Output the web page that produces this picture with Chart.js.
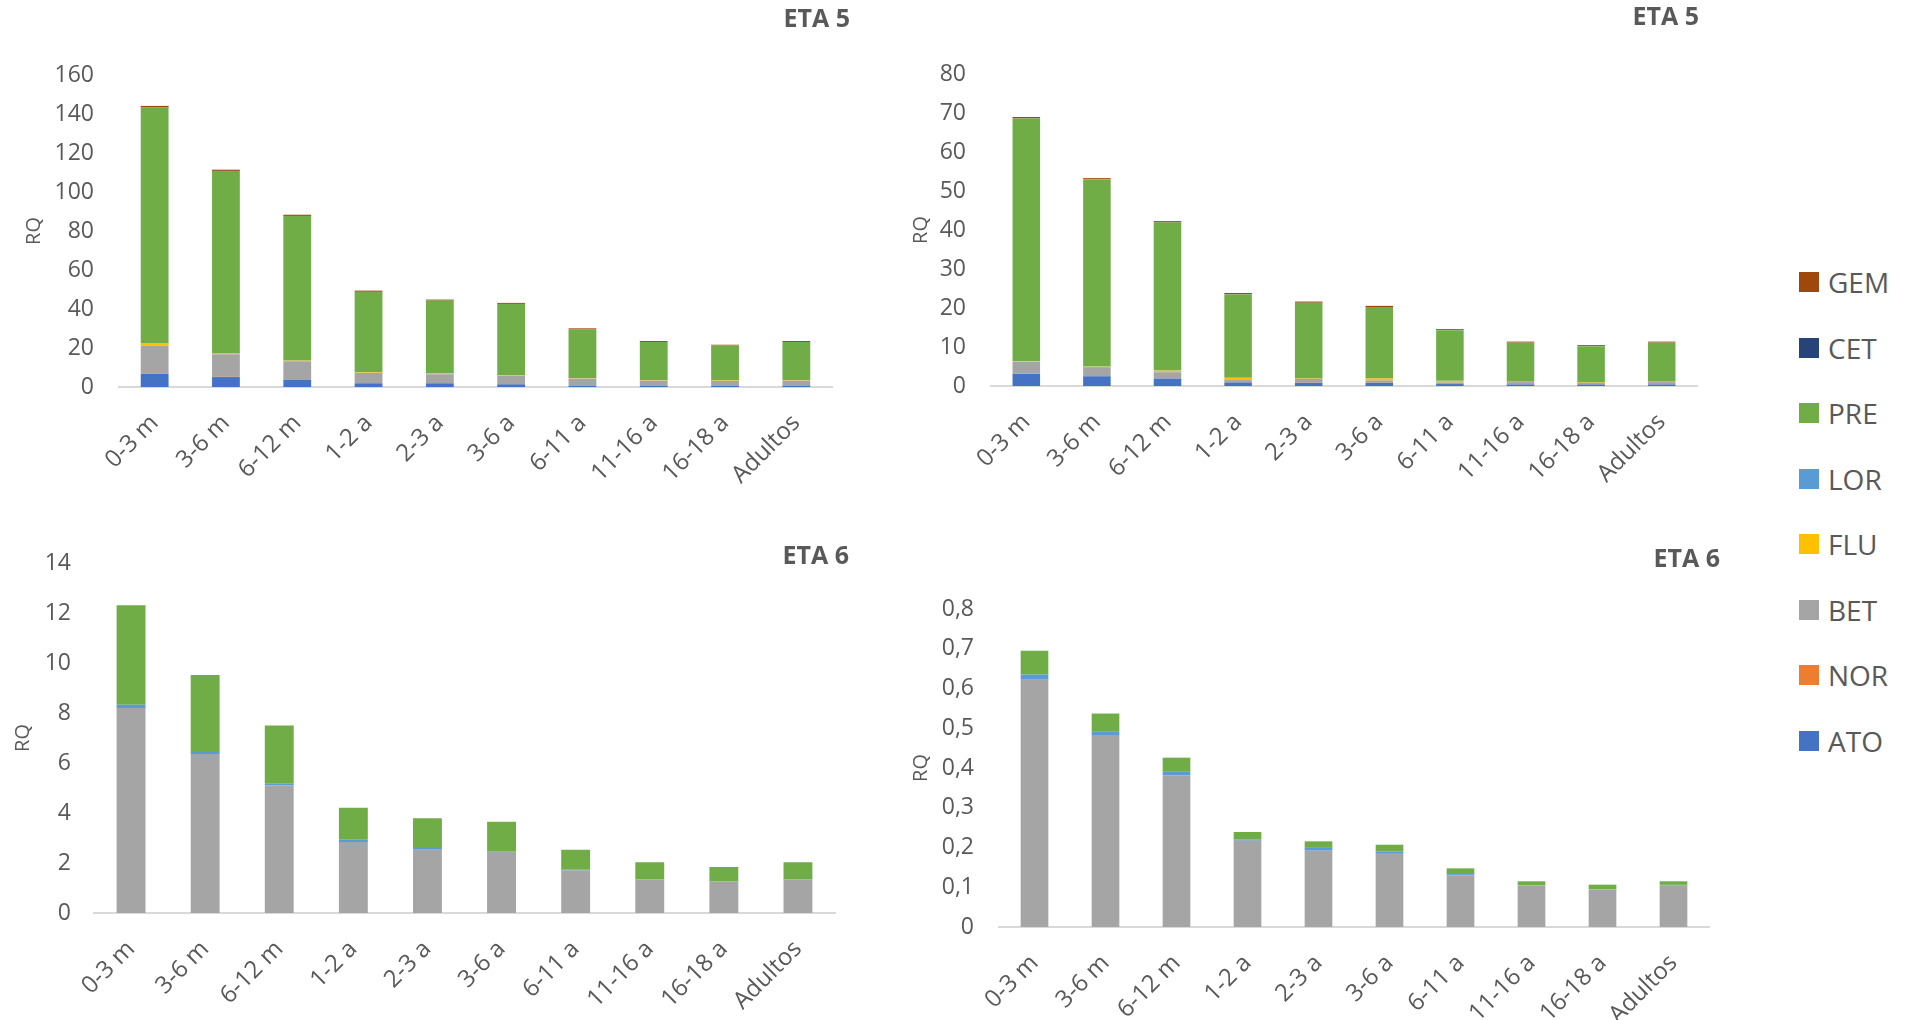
<!DOCTYPE html>
<html lang="es">
<head>
<meta charset="utf-8">
<title>RQ por grupo de edad</title>
<script src="https://cdn.jsdelivr.net/npm/chart.js@4.4.1/dist/chart.umd.min.js"></script>
<style>
  html, body { margin: 0; padding: 0; background: #fff; }
  body { width: 1910px; height: 1020px; position: relative; overflow: hidden; font-family: "Open Sans", sans-serif; }
  canvas { position: absolute; }
  #leyenda { position: absolute; left: 1799px; top: 268px; margin: 0; padding: 0; list-style: none; }
  #leyenda li { height: 65.5px; display: flex; align-items: flex-start; color: #595959; font-size: 28px; line-height: 28px; }
  #leyenda span { width: 20px; height: 20px; margin: 4px 9px 0 0; display: inline-block; }
</style>
</head>
<body>
<canvas id="eta5a" width="870" height="510" style="left:0;top:0"></canvas>
<canvas id="eta5b" width="870" height="510" style="left:880px;top:0"></canvas>
<canvas id="eta6a" width="870" height="500" style="left:0;top:520px"></canvas>
<canvas id="eta6b" width="870" height="500" style="left:880px;top:520px"></canvas>
<ul id="leyenda"></ul>
<script>
// grupos de edad y compuestos (orden de apilado, de abajo arriba)
const edades = ['0-3 m', '3-6 m', '6-12 m', '1-2 a', '2-3 a', '3-6 a', '6-11 a', '11-16 a', '16-18 a', 'Adultos'];
const compuestos = ['ATO', 'NOR', 'BET', 'FLU', 'LOR', 'PRE', 'CET', 'GEM'];
const colores = ['#4472C4', '#ED7D31', '#A5A5A5', '#FFC000', '#5B9BD5', '#70AD47', '#264478', '#9E480E'];

// ETA 5, escenario alto
const rqEta5A = {
  ATO: [6.8, 5.1, 3.8, 1.9, 1.9, 1.4, 0.7, 0.7, 0.7, 0.7],
  NOR: [0.1, 0.1, 0.1, 0.05, 0.05, 0.05, 0.03, 0.02, 0.02, 0.02],
  BET: [14.3, 11.6, 9.3, 5.3, 4.6, 4.4, 3.6, 2.5, 2.4, 2.5],
  FLU: [1.0, 0.3, 0.3, 0.3, 0.3, 0.3, 0.2, 0.2, 0.2, 0.2],
  LOR: [0.1, 0.1, 0.1, 0.05, 0.05, 0.05, 0.03, 0.03, 0.03, 0.03],
  PRE: [121.1, 93.6, 74.1, 41.2, 37.4, 36.4, 25.0, 19.6, 17.9, 19.6],
  CET: [0.05, 0.05, 0.05, 0.03, 0.03, 0.03, 0.02, 0.02, 0.02, 0.02],
  GEM: [0.7, 0.6, 0.6, 0.6, 0.5, 0.5, 0.5, 0.5, 0.4, 0.5]
};
// ETA 5, escenario bajo
const rqEta5B = {
  ATO: [3.1, 2.5, 1.9, 0.9, 0.8, 0.8, 0.5, 0.4, 0.4, 0.4],
  NOR: [0.05, 0.04, 0.03, 0.02, 0.02, 0.02, 0.01, 0.01, 0.01, 0.01],
  BET: [3.0, 2.3, 1.6, 0.6, 1.0, 0.6, 0.4, 0.6, 0.4, 0.6],
  FLU: [0.2, 0.1, 0.4, 0.6, 0.1, 0.5, 0.4, 0.1, 0.1, 0.1],
  LOR: [0.05, 0.04, 0.03, 0.02, 0.02, 0.02, 0.01, 0.01, 0.01, 0.01],
  PRE: [62.2, 48.0, 38.0, 21.4, 19.4, 18.3, 13.0, 10.0, 9.3, 10.0],
  CET: [0.02, 0.02, 0.02, 0.01, 0.01, 0.01, 0.01, 0.01, 0.01, 0.01],
  GEM: [0.35, 0.3, 0.3, 0.3, 0.3, 0.3, 0.25, 0.25, 0.25, 0.25]
};
// ETA 6, escenario alto
const rqEta6A = {
  ATO: [0, 0, 0, 0, 0, 0, 0, 0, 0, 0],
  NOR: [0, 0, 0, 0, 0, 0, 0, 0, 0, 0],
  BET: [8.2, 6.36, 5.1, 2.84, 2.53, 2.45, 1.71, 1.33, 1.25, 1.33],
  FLU: [0, 0, 0, 0, 0, 0, 0, 0, 0, 0],
  LOR: [0.13, 0.08, 0.07, 0.09, 0.07, 0.03, 0.02, 0.02, 0.02, 0.02],
  PRE: [3.98, 3.08, 2.33, 1.28, 1.19, 1.17, 0.8, 0.68, 0.57, 0.68],
  CET: [0, 0, 0, 0, 0, 0, 0, 0, 0, 0],
  GEM: [0, 0, 0, 0, 0, 0, 0, 0, 0, 0]
};
// ETA 6, escenario bajo
const rqEta6B = {
  ATO: [0, 0, 0, 0, 0, 0, 0, 0, 0, 0],
  NOR: [0, 0, 0, 0, 0, 0, 0, 0, 0, 0],
  BET: [0.622, 0.481, 0.381, 0.217, 0.192, 0.184, 0.13, 0.104, 0.094, 0.104],
  FLU: [0, 0, 0, 0, 0, 0, 0, 0, 0, 0],
  LOR: [0.013, 0.01, 0.011, 0.003, 0.007, 0.006, 0.003, 0.001, 0.001, 0.002],
  PRE: [0.06, 0.046, 0.034, 0.019, 0.0165, 0.017, 0.0145, 0.01, 0.0115, 0.009],
  CET: [0, 0, 0, 0, 0, 0, 0, 0, 0, 0],
  GEM: [0, 0, 0, 0, 0, 0, 0, 0, 0, 0]
};

// marcas del eje Y
const ticksEta5A = [0, 20, 40, 60, 80, 100, 120, 140, 160];
const ticksEta5B = [0, 10, 20, 30, 40, 50, 60, 70, 80];
const ticksEta6A = [0, 2, 4, 6, 8, 10, 12, 14];
const ticksEta6B = [0, 0.1, 0.2, 0.3, 0.4, 0.5, 0.6, 0.7, 0.8];

const gris = '#595959';
const fuente = '"Open Sans", sans-serif';

// título en la esquina superior derecha
const tituloEsquina = {
  id: 'tituloEsquina',
  afterDraw(chart, args, opts) {
    const ctx = chart.ctx;
    ctx.save();
    ctx.font = 'bold 25px ' + fuente;
    ctx.fillStyle = gris;
    ctx.textAlign = 'right';
    ctx.textBaseline = 'middle';
    ctx.fillText(opts.texto, opts.x, opts.y);
    ctx.restore();
  }
};

const crearGrafica = (id, datos, marcas, caja) => {
  const conjuntos = compuestos.map((c, i) => ({
    label: c,
    data: datos[c],
    backgroundColor: colores[i],
    borderWidth: 0,
    barPercentage: 0.39,
    categoryPercentage: 1
  }));
  return new Chart(document.getElementById(id), {
    type: 'bar',
    data: { labels: edades, datasets: conjuntos },
    plugins: [tituloEsquina],
    options: {
      responsive: false,
      animation: false,
      layout: { padding: { left: 0, top: caja.arriba, right: caja.derecha, bottom: 0 } },
      plugins: {
        legend: { display: false },
        tooltip: { enabled: false },
        tituloEsquina: { texto: caja.titulo, x: caja.tx, y: caja.ty }
      },
      scales: {
        x: {
          stacked: true,
          grid: { display: false, drawTicks: false },
          border: { display: true, color: '#d9d9d9', width: 2 },
          ticks: { color: gris, font: { family: fuente, size: 24 }, minRotation: 45, maxRotation: 45, padding: 22 },
          afterFit: (s) => { s.height = caja.altoX; }
        },
        y: {
          stacked: true,
          min: 0,
          max: marcas[marcas.length - 1],
          grid: { display: false, drawTicks: false },
          border: { display: false },
          afterBuildTicks: (s) => { s.ticks = marcas.map(v => ({ value: v })); },
          ticks: {
            color: gris,
            font: { family: fuente, size: 23 },
            padding: caja.sepY,
            callback: (v) => String(v).replace('.', ',')
          },
          title: { display: true, text: 'RQ', color: gris, font: { family: fuente, size: 20 }, padding: { top: caja.rq, bottom: 0 } },
          afterFit: (s) => { s.width = caja.anchoY; }
        }
      }
    }
  });
};

crearGrafica('eta5a', rqEta5A, ticksEta5A, { arriba: 75, derecha: 38, altoX: 123, anchoY: 119, sepY: 25, rq: 22, titulo: 'ETA 5', tx: 850, ty: 20 });
crearGrafica('eta5b', rqEta5B, ticksEta5B, { arriba: 74, derecha: 53, altoX: 124, anchoY: 111, sepY: 25, rq: 29, titulo: 'ETA 5', tx: 819, ty: 18 });
crearGrafica('eta6a', rqEta6A, ticksEta6A, { arriba: 43, derecha: 35, altoX: 107, anchoY: 94, sepY: 23, rq: 11, titulo: 'ETA 6', tx: 849, ty: 37 });
crearGrafica('eta6b', rqEta6B, ticksEta6B, { arriba: 89, derecha: 41, altoX: 93, anchoY: 119, sepY: 25, rq: 29, titulo: 'ETA 6', tx: 840, ty: 40 });

// leyenda común, en orden inverso al apilado
const leyenda = document.getElementById('leyenda');
compuestos.slice().reverse().forEach((c) => {
  const i = compuestos.indexOf(c);
  const li = document.createElement('li');
  li.innerHTML = '<span style="background:' + colores[i] + '"></span>' + c;
  leyenda.appendChild(li);
});
</script>
</body>
</html>
